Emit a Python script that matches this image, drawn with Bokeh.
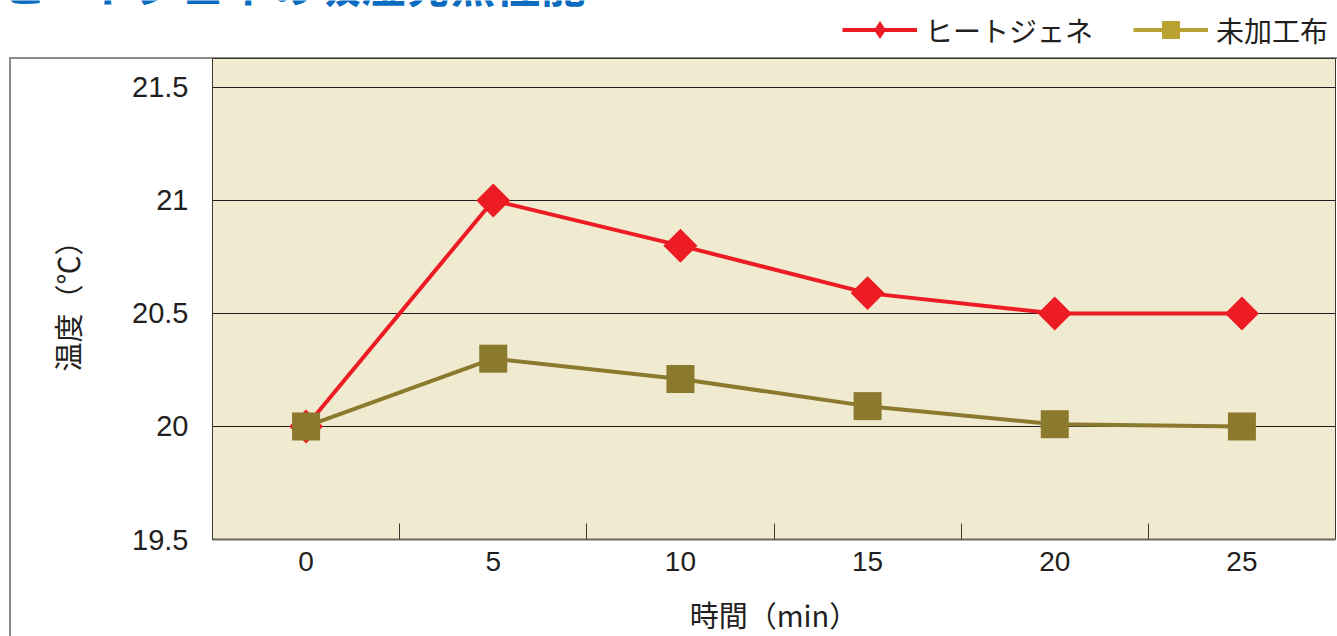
import numpy as np
from bokeh.plotting import figure
from bokeh.models import (ColumnDataSource, FixedTicker, Legend, LegendItem, Label,
                          NumeralTickFormatter)
from bokeh.embed import file_html
from bokeh.resources import INLINE

# ---- data ----
time_min = [0, 5, 10, 15, 20, 25]
heatgene = [20.0, 21.0, 20.8, 20.59, 20.5, 20.5]
untreated = [20.0, 20.3, 20.21, 20.09, 20.01, 20.0]
y_ticks = [19.5, 20, 20.5, 21, 21.5]
x_ticks = [0, 5, 10, 15, 20, 25]
x_boundaries = [2.5, 7.5, 12.5, 17.5, 22.5]
series_names = ["ヒートジェネ", "未加工布"]
title_text = "ヒートジェネの吸湿発熱性能"
x_title = "時間（min）"
y_title = "温度（℃）"

RED = "#ed1c24"
OLIVE = "#8b7a2e"
LEG_OLIVE = "#b9a232"
TXT = "#231f20"
JP = "Noto Sans CJK JP"
NUM = "Liberation Sans"
FRAME_GREY = "#8c8c8c"

W = 1337
HEAD_H = 57
FW, FH = 1123, 481

src = ColumnDataSource(dict(t=time_min, heat=heatgene, raw=untreated))

# ---------- header: title + legend ----------
head = figure(width=W, height=HEAD_H, output_backend="svg", toolbar_location=None,
              x_axis_type=None, y_axis_type=None, x_range=(0, 1), y_range=(0, 1),
              min_border_left=0, min_border_right=0, min_border_top=0, min_border_bottom=0)
head.grid.visible = False
head.outline_line_color = None
head.background_fill_color = None
head.border_fill_color = "white"

# legend-only renderers: series data lie outside this header's range, so only the legend shows
l1 = head.line("t", "heat", source=src, line_color=RED, line_width=4)
m1 = head.scatter("t", "heat", source=src, marker="diamond", size=20,
                  fill_color=RED, line_color=None)
l2 = head.line("t", "raw", source=src, line_color=LEG_OLIVE, line_width=4)
m2 = head.scatter("t", "raw", source=src, marker="square", size=20, fill_color=LEG_OLIVE,
                  line_color=None)

legend = Legend(items=[LegendItem(label=series_names[0], renderers=[l1, m1]),
                       LegendItem(label=series_names[1], renderers=[l2, m2])],
                orientation="horizontal", location=(842, 5),
                glyph_width=75, glyph_height=45, label_standoff=8, spacing=40,
                padding=0, margin=0, border_line_color=None, background_fill_alpha=0,
                label_text_font=JP, label_text_font_size="28px", label_text_color=TXT)
head.add_layout(legend)

head.add_layout(Label(x=0, y=HEAD_H - 15, x_units="screen", y_units="screen", text=title_text,
                      text_font=JP, text_font_size="45px", text_font_style="bold",
                      text_color="#0a6cc0", text_baseline="bottom", text_align="left"))

# ---------- main chart ----------
p = figure(frame_width=FW, frame_height=FH, output_backend="svg", toolbar_location=None,
           x_range=(-2.5, 27.5), y_range=(19.5, 21.628),
           min_border_left=212, min_border_right=2, min_border_top=1, min_border_bottom=97)
p.background_fill_color = "#f0ead0"
p.border_fill_color = None
p.outline_line_color = "#3a372f"
p.outline_line_width = 1
p.styles = {
    "background-color": "white",
    "background-image": f"linear-gradient({FRAME_GREY},{FRAME_GREY}), "
                        f"linear-gradient({FRAME_GREY},{FRAME_GREY})",
    "background-size": "2px 100%, 100% 2px",
    "background-position": "9px 0px, 9px 0px",
    "background-repeat": "no-repeat",
}

p.xgrid.visible = False
p.ygrid.grid_line_color = TXT
p.ygrid.grid_line_width = 1

p.yaxis.ticker = FixedTicker(ticks=y_ticks)
p.yaxis.formatter = NumeralTickFormatter(format="0.[0]")
p.yaxis.major_tick_line_color = None
p.yaxis.minor_tick_line_color = None
p.yaxis.axis_line_color = "#3a372f"
p.yaxis.major_label_text_font = NUM
p.yaxis.major_label_text_font_size = "29px"
p.yaxis.major_label_text_color = TXT
p.yaxis.major_label_standoff = 18
p.yaxis.axis_label = y_title
p.yaxis.axis_label_text_font = JP
p.yaxis.axis_label_text_font_size = "29px"
p.yaxis.axis_label_text_font_style = "normal"
p.yaxis.axis_label_text_color = TXT
p.yaxis.axis_label_standoff = 41

p.xaxis.ticker = FixedTicker(ticks=x_ticks, minor_ticks=x_boundaries)
p.xaxis.major_tick_line_color = None
p.xaxis.minor_tick_in = 16
p.xaxis.minor_tick_out = 0
p.xaxis.minor_tick_line_color = "#3a372f"
p.xaxis.minor_tick_line_width = 1
p.xaxis.axis_line_color = "#6b665c"
p.xaxis.axis_line_width = 2
p.xaxis.major_label_text_font = NUM
p.xaxis.major_label_text_font_size = "28px"
p.xaxis.major_label_text_color = TXT
p.xaxis.major_label_standoff = 6
p.xaxis.axis_label = x_title
p.xaxis.axis_label_text_font = JP
p.xaxis.axis_label_text_font_size = "29px"
p.xaxis.axis_label_text_font_style = "normal"
p.xaxis.axis_label_text_color = TXT
p.xaxis.axis_label_standoff = 19

p.line("t", "heat", source=src, line_color=RED, line_width=4)
p.scatter("t", "heat", source=src, marker="square", angle=np.pi / 4, size=24,
          fill_color=RED, line_color=None)
p.line("t", "raw", source=src, line_color=OLIVE, line_width=4)
p.scatter("t", "raw", source=src, marker="square", size=28, fill_color=OLIVE, line_color=None)

open("out.html", "w").write(file_html([head, p], INLINE))
